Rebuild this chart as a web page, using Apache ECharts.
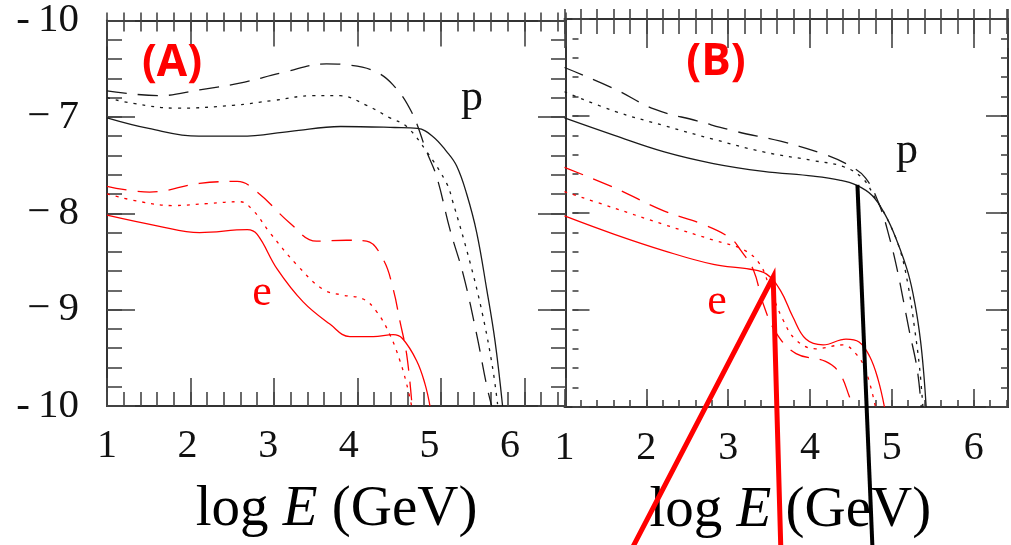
<!DOCTYPE html>
<html>
<head>
<meta charset="utf-8">
<script src="https://cdn.jsdelivr.net/npm/echarts@6/dist/echarts.min.js"></script>
<style>
html, body { margin: 0; padding: 0; background: #fff; }
#chart { width: 1011px; height: 545px; }
</style>
</head>
<body>
<div id="chart"></div>
<script>
// ---- axis ranges and tick labels ----
const panelAXRange = [1, 6.5];
const panelBXRange = [1, 6.42];
const yRange = [-10, -6];
const xTickValues = [1, 2, 3, 4, 5, 6];
const yTickValues = [-10, -9, -8, -7, -6];
const yTickText = ['-\u200910', '\u2212\u20099', '\u2212\u20098', '\u2212\u20097', '-\u200910'];

// ---- panel (A): protons (black) ----
const aPSolidX  = [1.0, 1.5, 2.1, 2.6, 3.2, 3.8, 4.45, 4.72, 4.9, 5.07, 5.19, 5.31, 5.43, 5.55, 5.65, 5.74];
const aPSolidY  = [-7.01, -7.12, -7.2, -7.2, -7.15, -7.1, -7.11, -7.12, -7.2, -7.36, -7.51, -7.8, -8.2, -8.79, -9.33, -10.0];
const aPDotX    = [1.0, 1.31, 1.84, 2.51, 2.99, 3.47, 3.79, 4.11, 4.39, 4.59, 4.83, 5.07, 5.14, 5.35, 5.5, 5.62, 5.68];
const aPDotY    = [-6.8, -6.86, -6.91, -6.88, -6.83, -6.78, -6.78, -6.88, -7.01, -7.1, -7.36, -7.69, -7.87, -8.51, -9.05, -9.6, -9.98];
const aPDashX   = [1.0, 1.63, 2.11, 2.59, 3.11, 3.63, 3.87, 4.19, 4.43, 4.65, 4.83, 4.95, 5.11, 5.27, 5.43, 5.55, 5.61];
const aPDashY   = [-6.73, -6.78, -6.72, -6.65, -6.54, -6.45, -6.46, -6.52, -6.67, -6.95, -7.36, -7.62, -8.17, -8.64, -9.26, -9.79, -10.0];

// ---- panel (A): electrons (red) ----
const aESolidX  = [1.0, 1.6, 2.11, 2.68, 2.8, 3.04, 3.35, 3.67, 3.91, 4.19, 4.43, 4.54, 4.71, 4.81, 4.87];
const aESolidY  = [-8.02, -8.13, -8.2, -8.17, -8.22, -8.58, -8.92, -9.15, -9.28, -9.28, -9.26, -9.3, -9.53, -9.77, -10.0];
const aEDotX    = [1.0, 1.4, 1.79, 2.2, 2.59, 2.75, 2.95, 3.28, 3.59, 3.83, 4.07, 4.23, 4.39, 4.51, 4.59, 4.65];
const aEDotY    = [-7.8, -7.88, -7.92, -7.9, -7.88, -7.97, -8.2, -8.54, -8.79, -8.85, -8.89, -9.02, -9.26, -9.53, -9.77, -10.0];
const aEDashX   = [1.0, 1.51, 2.11, 2.56, 2.8, 3.19, 3.51, 3.87, 4.11, 4.31, 4.43, 4.51, 4.59, 4.65];
const aEDashY   = [-7.72, -7.78, -7.69, -7.67, -7.78, -8.1, -8.29, -8.28, -8.29, -8.48, -8.79, -9.12, -9.46, -9.94];

// ---- panel (B): protons (black) ----
const bPSolidX  = [1.0, 1.61, 2.22, 2.82, 3.43, 4.04, 4.36, 4.56, 4.76, 4.92, 5.05, 5.2, 5.29, 5.35, 5.39, 5.42];
const bPSolidY  = [-7.02, -7.2, -7.37, -7.49, -7.57, -7.62, -7.66, -7.71, -7.82, -8.02, -8.26, -8.62, -8.97, -9.31, -9.65, -10.0];
const bPDotX    = [1.0, 1.61, 2.22, 2.82, 3.43, 4.04, 4.4, 4.64, 4.8, 4.95, 5.1, 5.2, 5.28, 5.34, 5.38];
const bPDotY    = [-6.75, -6.95, -7.1, -7.24, -7.37, -7.46, -7.52, -7.64, -7.85, -8.07, -8.38, -8.75, -9.2, -9.6, -10.0];
const bPDashX   = [1.0, 1.61, 2.1, 2.62, 3.1, 3.64, 4.16, 4.48, 4.68, 4.85, 4.97, 5.07, 5.21, 5.31, 5.36];
const bPDashY   = [-6.5, -6.72, -6.93, -7.05, -7.16, -7.26, -7.39, -7.51, -7.64, -7.92, -8.25, -8.6, -9.2, -9.61, -10.0];

// ---- panel (B): electrons (red) ----
const bESolidX  = [1.0, 1.61, 2.22, 2.82, 3.27, 3.47, 3.64, 3.79, 3.95, 4.16, 4.44, 4.6, 4.73, 4.83, 4.91];
const bESolidY  = [-8.03, -8.22, -8.39, -8.53, -8.58, -8.63, -8.8, -9.07, -9.3, -9.36, -9.3, -9.33, -9.48, -9.71, -10.0];
const bEDotX    = [1.0, 1.61, 2.22, 2.82, 3.19, 3.39, 3.52, 3.67, 3.83, 4.07, 4.4, 4.56, 4.68, 4.8];
const bEDotY    = [-7.78, -7.95, -8.12, -8.28, -8.38, -8.53, -8.8, -9.1, -9.31, -9.4, -9.36, -9.45, -9.62, -10.0];
const bEDashX   = [1.0, 1.61, 2.22, 2.7, 3.03, 3.15, 3.31, 3.43, 3.59, 3.83, 4.19, 4.36, 4.48, 4.52];
const bEDashY   = [-7.53, -7.74, -7.98, -8.12, -8.26, -8.38, -8.59, -8.94, -9.24, -9.45, -9.53, -9.65, -9.89, -10.0];

// ---- panel (B): pointer lines marking the spectral breaks ----
const pointerRedX   = [1.8, 3.55, 3.645];
const pointerRedY   = [-11.5, -8.66, -11.5];
const pointerBlackX = [4.58, 4.766];
const pointerBlackY = [-7.71, -11.5];

// ---- styling ----
const RED = '#ff0000';
const BLACK = '#1a1a1a';
const FRAME = '#333';
const SERIF = '"Liberation Serif", "Times New Roman", serif';

const chart = echarts.init(document.getElementById('chart'), null, { renderer: 'canvas' });

function pairs(xs, ys) { return xs.map((x, i) => [x, ys[i]]); }

function isInt(v) { return Math.abs(v - Math.round(v)) < 1e-6; }

const xLabelStyle = {
  fontFamily: SERIF, fontSize: 40, color: '#111',
  formatter: v => (isInt(v) && xTickValues.indexOf(Math.round(v)) >= 0) ? String(Math.round(v)) : ''
};

// an axis used only for its line/ticks
function xFrame(grid, range, pos, interval, tickLen, inside, showLine, extra) {
  return Object.assign({
    type: 'value', gridIndex: grid, position: pos, min: range[0], max: range[1], interval: interval,
    axisLine: { show: showLine, onZero: false, lineStyle: { color: FRAME, width: 2 } },
    axisTick: { show: true, inside: inside, length: tickLen, lineStyle: { color: '#444', width: 1.6 } },
    axisLabel: { show: false }, splitLine: { show: false }
  }, extra || {});
}
function yFrame(grid, pos, interval, tickLen, showLine, extra) {
  return Object.assign({
    type: 'value', gridIndex: grid, position: pos, min: yRange[0], max: yRange[1], interval: interval,
    axisLine: { show: showLine, onZero: false, lineStyle: { color: FRAME, width: 2 } },
    axisTick: { show: true, inside: true, length: tickLen, lineStyle: { color: '#444', width: 1.6 } },
    axisLabel: { show: false }, splitLine: { show: false }
  }, extra || {});
}

function axisTitle(shift) {
  return {
    name: '{n|log }{i|E}{n| (GeV)}',
    nameLocation: 'middle',
    nameGap: 76,
    nameTextStyle: {
      padding: [0, 0, 0, shift],
      rich: {
        n: { fontFamily: SERIF, fontSize: 57, color: '#000' },
        i: { fontFamily: SERIF, fontSize: 57, fontStyle: 'italic', color: '#000' }
      }
    }
  };
}

const xAxes = [
  // panel A (indices 0-5)
  xFrame(0, panelAXRange, 'bottom', 1, 28, true, true),
  xFrame(0, panelAXRange, 'bottom', 0.2, 14, true, false),
  xFrame(0, panelAXRange, 'top', 1, 26, true, true),
  xFrame(0, panelAXRange, 'top', 0.2, 11, true, false),
  xFrame(0, panelAXRange, 'top', 0.2, 8, false, false),
  Object.assign({
    type: 'value', gridIndex: 0, position: 'bottom', min: 1, max: 6.695, interval: 1,
    axisLine: { show: false, onZero: false }, axisTick: { show: false }, splitLine: { show: false },
    axisLabel: Object.assign({ show: true, margin: 20 }, xLabelStyle)
  }, axisTitle(0)),
  // panel B (indices 6-10)
  xFrame(1, panelBXRange, 'bottom', 1, 18, true, true, Object.assign({
    axisLabel: Object.assign({ show: true, margin: 21 }, xLabelStyle)
  }, axisTitle(8))),
  xFrame(1, panelBXRange, 'bottom', 0.2, 7, true, false),
  xFrame(1, panelBXRange, 'top', 1, 29, true, true),
  xFrame(1, panelBXRange, 'top', 0.2, 15, true, false),
  xFrame(1, panelBXRange, 'top', 0.2, 10, false, false)
];

const yAxes = [
  // panel A (indices 0-3)
  yFrame(0, 'left', 1, 28, true, {
    axisLabel: {
      show: true, margin: 28, fontFamily: SERIF, fontSize: 41, color: '#111',
      formatter: v => { const i = yTickValues.indexOf(Math.round(v)); return (isInt(v) && i >= 0) ? yTickText[i] : ''; }
    }
  }),
  yFrame(0, 'left', 0.2, 15, false),
  yFrame(0, 'right', 1, 28, true),
  yFrame(0, 'right', 0.2, 15, false),
  // panel B (indices 4-7)
  yFrame(1, 'left', 1, 17, false, { offset: -8 }),
  yFrame(1, 'left', 0.2, 6, false, { offset: -8 }),
  yFrame(1, 'right', 1, 22, true),
  yFrame(1, 'right', 0.2, 7, true)
];

function curve(xs, ys, color, dash, panel) {
  return {
    type: 'line', xAxisIndex: panel === 0 ? 0 : 6, yAxisIndex: panel === 0 ? 0 : 4,
    data: pairs(xs, ys), showSymbol: false, symbol: 'none', smooth: 0.4,
    lineStyle: { color: color, width: 1.3, type: dash === 'solid' ? 'solid' : (dash === 'dot' ? [3, 6] : [20, 11]) },
    silent: true, animation: false
  };
}

const series = [
  curve(aPSolidX, aPSolidY, BLACK, 'solid', 0),
  curve(aPDotX, aPDotY, BLACK, 'dot', 0),
  curve(aPDashX, aPDashY, BLACK, 'dash', 0),
  curve(aESolidX, aESolidY, RED, 'solid', 0),
  curve(aEDotX, aEDotY, RED, 'dot', 0),
  curve(aEDashX, aEDashY, RED, 'dash', 0),
  curve(bPSolidX, bPSolidY, BLACK, 'solid', 1),
  curve(bPDotX, bPDotY, BLACK, 'dot', 1),
  curve(bPDashX, bPDashY, BLACK, 'dash', 1),
  curve(bESolidX, bESolidY, RED, 'solid', 1),
  curve(bEDotX, bEDotY, RED, 'dot', 1),
  curve(bEDashX, bEDashY, RED, 'dash', 1),
  {
    type: 'line', xAxisIndex: 6, yAxisIndex: 4, data: pairs(pointerRedX, pointerRedY),
    showSymbol: false, symbol: 'none', clip: false, z: 5, animation: false,
    lineStyle: { color: RED, width: 5, join: 'miter' }
  },
  {
    type: 'line', xAxisIndex: 6, yAxisIndex: 4, data: pairs(pointerBlackX, pointerBlackY),
    showSymbol: false, symbol: 'none', clip: false, z: 5, animation: false,
    lineStyle: { color: '#000', width: 4 }
  }
];

const tagFont = '"Open Sans", "Noto Sans", sans-serif';
const graphic = [
  { type: 'text', z: 10, style: { text: '(A)', x: 172, y: 63, align: 'center', verticalAlign: 'middle', fill: RED, fontFamily: tagFont, fontWeight: 'bold', fontSize: 44 } },
  { type: 'text', z: 10, style: { text: '(B)', x: 716, y: 62, align: 'center', verticalAlign: 'middle', fill: RED, fontFamily: tagFont, fontWeight: 'bold', fontSize: 44 } },
  { type: 'text', z: 10, style: { text: 'p', x: 472, y: 98, align: 'center', verticalAlign: 'middle', fill: '#111', fontFamily: SERIF, fontSize: 44 } },
  { type: 'text', z: 10, style: { text: 'e', x: 262, y: 293, align: 'center', verticalAlign: 'middle', fill: RED, fontFamily: SERIF, fontSize: 44 } },
  { type: 'text', z: 10, style: { text: 'p', x: 907, y: 151, align: 'center', verticalAlign: 'middle', fill: '#111', fontFamily: SERIF, fontSize: 44 } },
  { type: 'text', z: 10, style: { text: 'e', x: 717, y: 302, align: 'center', verticalAlign: 'middle', fill: RED, fontFamily: SERIF, fontSize: 44 } }
];

chart.setOption({
  backgroundColor: '#fff',
  animation: false,
  grid: [
    { left: 107, top: 16, width: 459, height: 390 },
    { left: 564.5, top: 19, width: 447.5, height: 392 }
  ],
  xAxis: xAxes,
  yAxis: yAxes,
  series: series,
  graphic: graphic
});
</script>
</body>
</html>
